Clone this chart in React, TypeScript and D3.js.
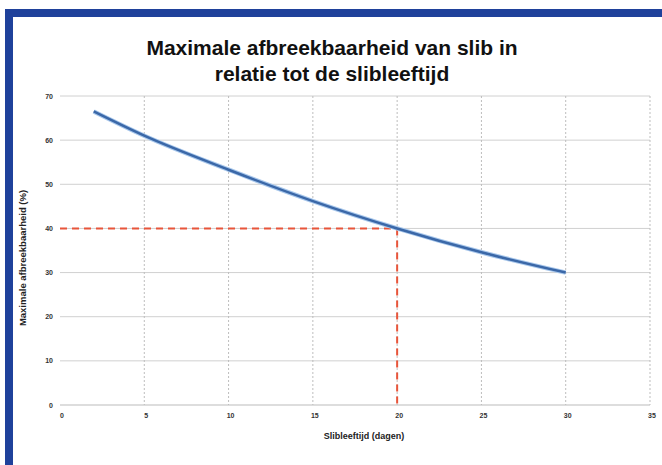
import { useEffect, useRef } from "react"
import * as d3 from "d3"

const slibleeftijd = [2, 5, 10, 15, 20, 25, 30]
const afbreekbaarheid = [66.5, 61, 53.3, 46.2, 40, 34.6, 30]
const xTicks = [0, 5, 10, 15, 20, 25, 30, 35]
const yTicks = [0, 10, 20, 30, 40, 50, 60, 70]
const marker = { x: 20, y: 40 }
const titleLines = ["Maximale afbreekbaarheid van slib in", "relatie tot de slibleeftijd"]

export default function App() {
  const svgRef = useRef<SVGSVGElement>(null)

  useEffect(() => {
    if (!svgRef.current) return
    const svg = d3.select(svgRef.current)
    svg.selectAll("*").remove()

    const W = 662
    const H = 465

    svg.append("rect").attr("width", W).attr("height", H).attr("fill", "#fff")
    // blue frame (top + left)
    svg.append("rect").attr("x", 5).attr("y", 9).attr("width", W - 5).attr("height", 8).attr("fill", "#1f419b")
    svg.append("rect").attr("x", 5).attr("y", 9).attr("width", 8).attr("height", H).attr("fill", "#1f419b")

    const x = d3.scaleLinear().domain([0, 35]).range([60, 650])
    const y = d3.scaleLinear().domain([0, 70]).range([405, 96])

    // title
    svg
      .append("g")
      .selectAll("text")
      .data(titleLines)
      .enter()
      .append("text")
      .attr("x", 332)
      .attr("y", (_, i) => 55 + i * 26)
      .attr("text-anchor", "middle")
      .attr("font-family", "Liberation Sans, Arial, sans-serif")
      .attr("font-weight", "bold")
      .attr("font-size", 21)
      .attr("fill", "#111")
      .text((d) => d)

    // grid
    const grid = svg.append("g")
    grid
      .selectAll(".hg")
      .data(yTicks)
      .enter()
      .append("line")
      .attr("x1", x(0))
      .attr("x2", x(35))
      .attr("y1", (d) => y(d))
      .attr("y2", (d) => y(d))
      .attr("stroke", (d) => (d === 0 ? "#bbb" : "#d0d0d0"))
      .attr("stroke-width", 1)
    grid
      .selectAll(".vg")
      .data(xTicks.filter((d) => d > 0))
      .enter()
      .append("line")
      .attr("x1", (d) => x(d))
      .attr("x2", (d) => x(d))
      .attr("y1", y(70))
      .attr("y2", y(0))
      .attr("stroke", "#bdbdbd")
      .attr("stroke-dasharray", "2,2")
      .attr("stroke-width", 1)

    // tick labels
    svg
      .append("g")
      .selectAll("text")
      .data(yTicks)
      .enter()
      .append("text")
      .attr("x", 53)
      .attr("y", (d) => y(d) + 2.5)
      .attr("text-anchor", "end")
      .attr("font-family", "Liberation Sans, Arial, sans-serif")
      .attr("font-weight", "bold")
      .attr("font-size", 7)
      .attr("fill", "#333")
      .text((d) => d)

    svg
      .append("g")
      .selectAll("text")
      .data(xTicks)
      .enter()
      .append("text")
      .attr("x", (d) => x(d) + 2)
      .attr("y", 418)
      .attr("text-anchor", "middle")
      .attr("font-family", "Liberation Sans, Arial, sans-serif")
      .attr("font-weight", "bold")
      .attr("font-size", 7)
      .attr("fill", "#333")
      .text((d) => d)

    // axis titles
    svg
      .append("text")
      .attr("x", 364)
      .attr("y", 439)
      .attr("text-anchor", "middle")
      .attr("font-family", "Liberation Sans, Arial, sans-serif")
      .attr("font-weight", "bold")
      .attr("font-size", 9)
      .attr("fill", "#222")
      .text("Slibleeftijd (dagen)")

    svg
      .append("text")
      .attr("transform", `translate(26,258) rotate(-90)`)
      .attr("text-anchor", "middle")
      .attr("font-family", "Liberation Sans, Arial, sans-serif")
      .attr("font-weight", "bold")
      .attr("font-size", 9.5)
      .attr("fill", "#222")
      .text("Maximale afbreekbaarheid (%)")

    // red dashed guides
    const guides = svg.append("g").attr("stroke", "#e8553a").attr("stroke-width", 2).attr("stroke-dasharray", "7,5").attr("fill", "none")
    guides.append("line").attr("x1", x(0)).attr("x2", x(marker.x)).attr("y1", y(marker.y)).attr("y2", y(marker.y))
    guides.append("line").attr("x1", x(marker.x)).attr("x2", x(marker.x)).attr("y1", y(marker.y)).attr("y2", y(0))

    // curve
    const data = slibleeftijd.map((d, i) => ({ x: d, y: afbreekbaarheid[i] }))
    const line = d3
      .line<{ x: number; y: number }>()
      .x((d) => x(d.x))
      .y((d) => y(d.y))
      .curve(d3.curveMonotoneX)

    svg
      .append("path")
      .datum(data)
      .attr("fill", "none")
      .attr("stroke", "#a9c8ec")
      .attr("stroke-width", 4.5)
      .attr("d", line)
    svg
      .append("path")
      .datum(data)
      .attr("fill", "none")
      .attr("stroke", "#3b68a8")
      .attr("stroke-width", 2.5)
      .attr("d", line)
  }, [])

  return (
    <div style={{ position: "absolute", left: 0, top: 0 }}>
      <svg ref={svgRef} width={662} height={465} style={{ display: "block" }}></svg>
    </div>
  )
}
